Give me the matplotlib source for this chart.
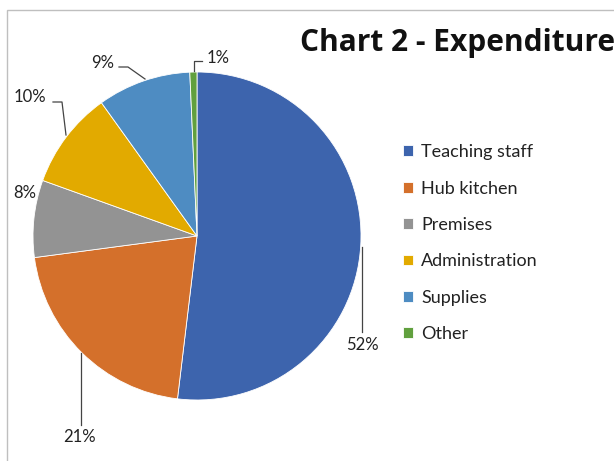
import matplotlib.pyplot as plt
from matplotlib.patches import Rectangle

categories = ["Teaching staff", "Hub kitchen", "Premises", "Administration", "Supplies", "Other"]
shares = [51.9, 21.0, 7.6, 9.6, 9.2, 0.7]
colors = ["#3d64ad", "#d4702b", "#939393", "#e2aa00", "#4e8cc2", "#61a03e"]

# label positions (pixels) and leader lines, per slice
label_px = [(362, 345), (80, 437), (25, 193), (30, 97), (103, 63), (218, 58)]
leaders_px = [
    [(362, 247), (362, 332)],
    [(81, 353), (81, 425)],
    None,
    [(53, 102), (62, 102), (66, 135)],
    [(119, 67), (128, 67), (145, 79)],
    [(194, 71), (194, 61), (202, 61)],
]

W, H = 614, 461
cx, cy, r = 197, 236, 164

plt.rcParams["font.family"] = ["Lato", "DejaVu Sans"]
fig = plt.figure(figsize=(W / 100, H / 100), dpi=100)
ax = fig.add_axes([0, 0, 1, 1])


def px(x, y):
    return ((x - cx) / r, (cy - y) / r)


wedges, _ = ax.pie(shares, colors=colors, startangle=90, counterclock=False,
                   radius=1, wedgeprops=dict(edgecolor="white", linewidth=0.6))
ax.set_xlim(-cx / r, (W - cx) / r)
ax.set_ylim(-(H - cy) / r, cy / r)
ax.set_aspect("auto")
ax.axis("off")

for s, (lx, ly), lead in zip(shares, label_px, leaders_px):
    x, y = px(lx, ly)
    ax.text(x, y, "%d%%" % round(s), ha="center", va="center", fontsize=12, color="#222222")
    if lead:
        pts = [px(a, b) for a, b in lead]
        ax.plot([p[0] for p in pts], [p[1] for p in pts], color="#444444", lw=0.9)

fig.text(300 / W, 1 - 43 / H, "Chart 2 - Expenditure", fontsize=21.5, fontweight="bold",
         family=["Open Sans", "DejaVu Sans"], ha="left", va="center", color="#111111")

ax.legend(wedges, categories, loc="upper left", bbox_to_anchor=(396 / W, 1 - 137 / H),
          frameon=False, fontsize=13, handlelength=0.55, handleheight=0.55,
          handletextpad=0.45, labelspacing=1.13, borderaxespad=0, labelcolor="#222222")

fig.patches.append(Rectangle((7 / W, -0.1), 1.2, 1 - 10 / H + 0.1, transform=fig.transFigure,
                             fill=False, edgecolor="#bfbfbf", lw=1.0))

fig.savefig("out.png", dpi=100)
